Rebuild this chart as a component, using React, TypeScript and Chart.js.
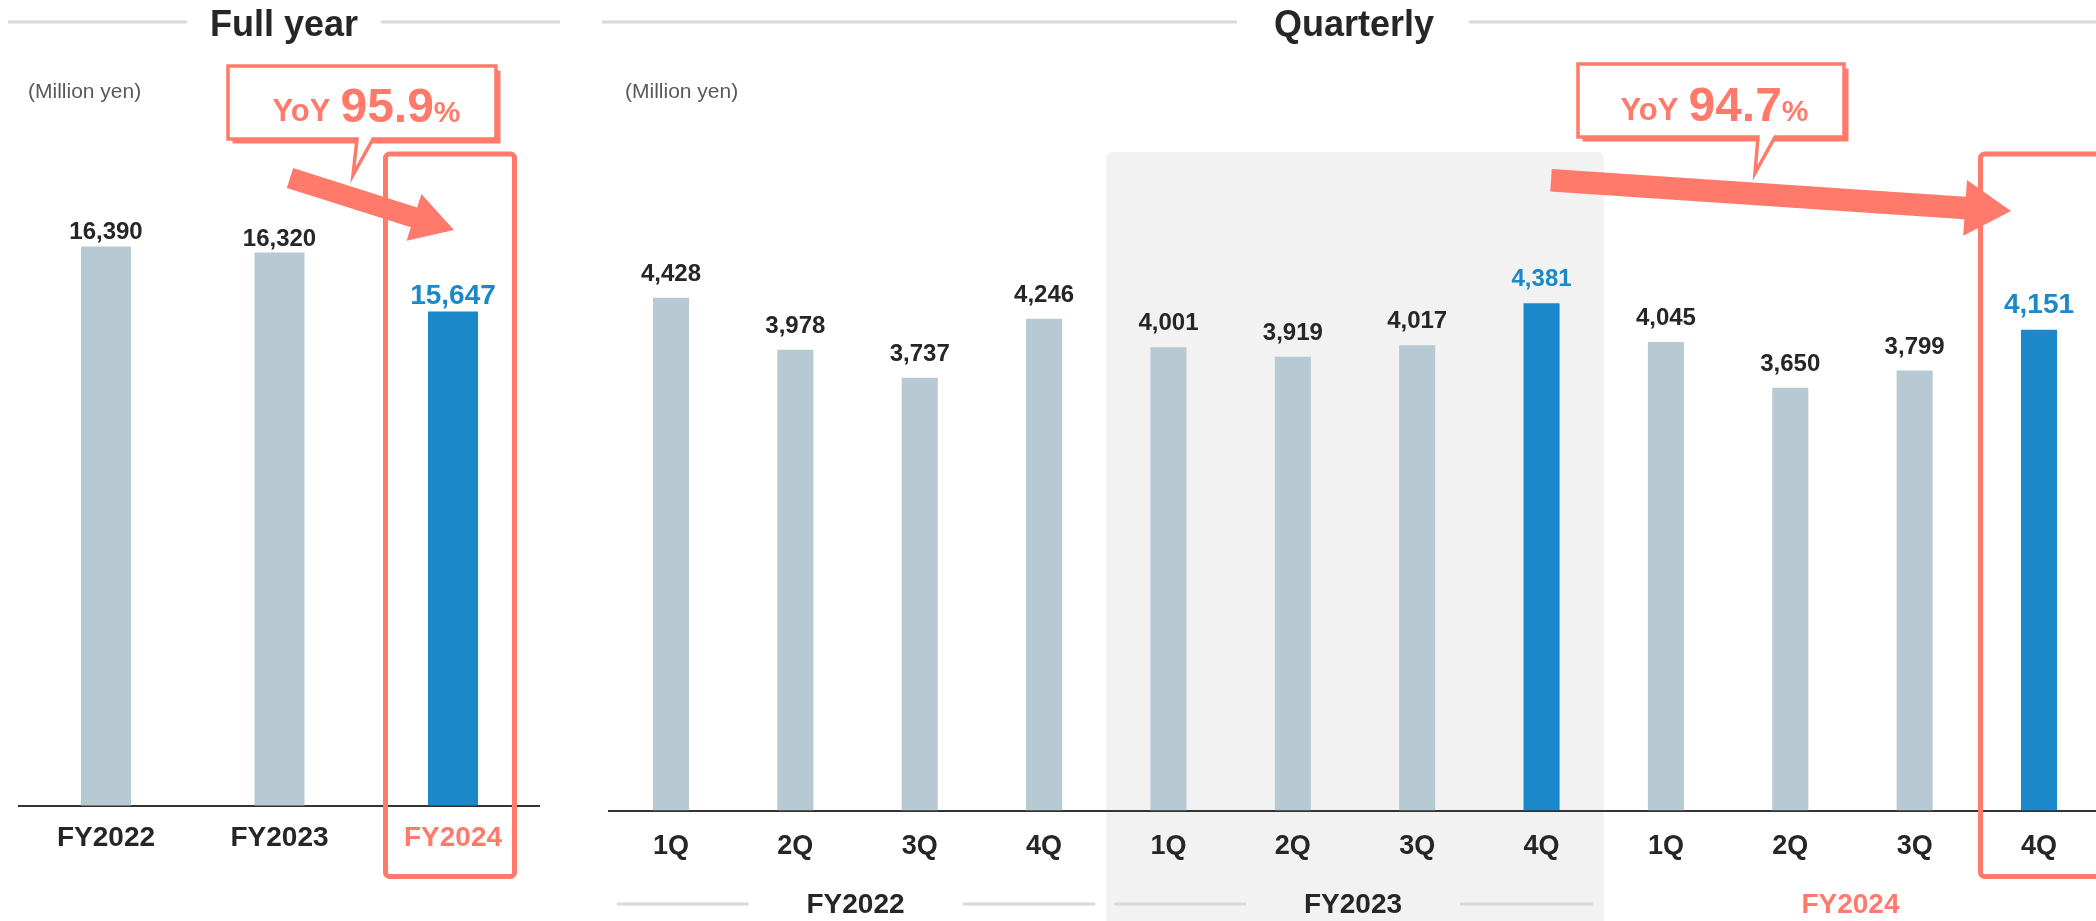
import React, { useEffect, useRef } from "react";
import { Chart, registerables } from "chart.js";

Chart.register(...registerables);

// ---------- data ----------
const yearLabels = ["FY2022", "FY2023", "FY2024"];
const yearValues = [16390, 16320, 15647];
const quarterLabels = ["1Q", "2Q", "3Q", "4Q", "1Q", "2Q", "3Q", "4Q", "1Q", "2Q", "3Q", "4Q"];
const quarterValues = [4428, 3978, 3737, 4246, 4001, 3919, 4017, 4381, 4045, 3650, 3799, 4151];
const quarterGroups = ["FY2022", "FY2023", "FY2024"];
const yoyYear = "95.9";
const yoyQuarter = "94.7";
const titleYear = "Full year";
const titleQuarter = "Quarterly";
const unitText = "(Million yen)";

// ---------- style ----------
const FONT = '"Liberation Sans", Arial, Helvetica, sans-serif';
const DARK = "#262626";
const GRAY_BAR = "#b7c9d3";
const BLUE = "#1b88ca";
const SALMON = "#ff7a6a";
const LINE_GRAY = "#d9d9d9";
const SHADE = "#f2f2f2";
const QX = 560; // quarterly canvas left offset

const fmt = (v: number) => v.toLocaleString("en-US");

function hline(ctx: CanvasRenderingContext2D, x1: number, x2: number, y: number, w = 3) {
  ctx.save();
  ctx.strokeStyle = LINE_GRAY;
  ctx.lineWidth = w;
  ctx.beginPath();
  ctx.moveTo(x1, y);
  ctx.lineTo(x2, y);
  ctx.stroke();
  ctx.restore();
}

function drawTitle(ctx: CanvasRenderingContext2D, text: string, cx: number) {
  ctx.save();
  ctx.font = `bold 36px ${FONT}`;
  ctx.fillStyle = DARK;
  ctx.textAlign = "center";
  ctx.textBaseline = "alphabetic";
  ctx.fillText(text, cx, 35.5);
  ctx.restore();
}

function drawUnit(ctx: CanvasRenderingContext2D, x: number) {
  ctx.save();
  ctx.font = `21px ${FONT}`;
  ctx.fillStyle = "#595959";
  ctx.textAlign = "left";
  ctx.textBaseline = "middle";
  ctx.fillText(unitText, x, 92);
  ctx.restore();
}

function drawRedBox(ctx: CanvasRenderingContext2D, x1: number, x2: number, y1: number, y2: number) {
  ctx.save();
  ctx.strokeStyle = SALMON;
  ctx.lineWidth = 5;
  ctx.beginPath();
  (ctx as any).roundRect(x1, y1, x2 - x1, y2 - y1, 4);
  ctx.stroke();
  ctx.restore();
}

function drawBubble(
  ctx: CanvasRenderingContext2D,
  x0: number, y0: number, x1: number, y1: number,
  tl: number, tr: number, tipX: number, tipY: number
) {
  ctx.save();
  // shadow
  ctx.fillStyle = SALMON;
  ctx.fillRect(x0 + 4.5, y0 + 4.5, x1 - x0, y1 - y0);
  // bubble
  ctx.beginPath();
  ctx.moveTo(x0, y0);
  ctx.lineTo(x1, y0);
  ctx.lineTo(x1, y1);
  ctx.lineTo(tr, y1);
  ctx.lineTo(tipX, tipY);
  ctx.lineTo(tl, y1);
  ctx.lineTo(x0, y1);
  ctx.closePath();
  ctx.fillStyle = "#ffffff";
  ctx.fill();
  ctx.strokeStyle = SALMON;
  ctx.lineWidth = 3.5;
  ctx.lineJoin = "miter";
  ctx.stroke();
  ctx.restore();
}

function drawYoY(ctx: CanvasRenderingContext2D, cx: number, base: number, num: string) {
  ctx.save();
  const f1 = `bold 31px ${FONT}`;
  const f2 = `bold 48px ${FONT}`;
  const f3 = `bold 30px ${FONT}`;
  ctx.font = f1;
  const w1 = ctx.measureText("YoY").width;
  ctx.font = f2;
  const w2 = ctx.measureText(num).width;
  ctx.font = f3;
  const w3 = ctx.measureText("%").width;
  const gap = 10;
  let x = cx - (w1 + gap + w2 + w3) / 2;
  ctx.fillStyle = SALMON;
  ctx.textAlign = "left";
  ctx.textBaseline = "alphabetic";
  ctx.font = f1;
  ctx.fillText("YoY", x, base - 0.5);
  x += w1 + gap;
  ctx.font = f2;
  ctx.fillText(num, x, base);
  x += w2;
  ctx.font = f3;
  ctx.fillText("%", x, base);
  ctx.restore();
}

function drawArrow(
  ctx: CanvasRenderingContext2D,
  sx: number, sy: number, tx: number, ty: number,
  sh: number, hl: number, hh: number
) {
  const dx = tx - sx, dy = ty - sy;
  const L = Math.hypot(dx, dy);
  const ux = dx / L, uy = dy / L;
  const px = -uy, py = ux;
  const bx = tx - ux * hl, by = ty - uy * hl;
  ctx.save();
  ctx.fillStyle = SALMON;
  ctx.beginPath();
  ctx.moveTo(sx + px * sh, sy + py * sh);
  ctx.lineTo(bx + px * sh, by + py * sh);
  ctx.lineTo(bx + px * hh, by + py * hh);
  ctx.lineTo(tx, ty);
  ctx.lineTo(bx - px * hh, by - py * hh);
  ctx.lineTo(bx - px * sh, by - py * sh);
  ctx.lineTo(sx - px * sh, sy - py * sh);
  ctx.closePath();
  ctx.fill();
  ctx.restore();
}

function drawValues(
  chart: any,
  values: number[],
  style: (i: number) => { color: string; size: number },
  gap: number
) {
  const ctx: CanvasRenderingContext2D = chart.ctx;
  const meta = chart.getDatasetMeta(0);
  ctx.save();
  ctx.textAlign = "center";
  ctx.textBaseline = "alphabetic";
  meta.data.forEach((bar: any, i: number) => {
    const s = style(i);
    ctx.font = `bold ${s.size}px ${FONT}`;
    ctx.fillStyle = s.color;
    ctx.fillText(fmt(values[i]), bar.x, bar.y - gap);
  });
  ctx.restore();
}

// ---------- plugins ----------
const yearDecor = {
  id: "yearDecor",
  beforeDraw(chart: any) {
    const ctx = chart.ctx;
    ctx.save();
    ctx.fillStyle = "#ffffff";
    ctx.fillRect(0, 0, chart.width, chart.height);
    ctx.restore();
  },
  afterDatasetsDraw(chart: any) {
    drawValues(
      chart,
      yearValues,
      (i) => (i === 2 ? { color: BLUE, size: 28 } : { color: DARK, size: 24 }),
      7
    );
  },
  afterDraw(chart: any) {
    const ctx = chart.ctx;
    hline(ctx, 8, 187, 22);
    hline(ctx, 381, 560, 22);
    drawTitle(ctx, titleYear, 284);
    drawUnit(ctx, 28);
    const xs = chart.scales.x;
    const cx = xs.getPixelForValue(2);
    drawRedBox(ctx, cx - 67.5, cx + 61.5, 154, 876.5);
    drawBubble(ctx, 228, 66, 496, 139, 357, 373, 353, 175);
    drawYoY(ctx, 366.5, 121.5, yoyYear);
    drawArrow(ctx, 290, 178, 454, 230, 10.4, 42, 24.5);
  },
};

const quarterDecor = {
  id: "quarterDecor",
  beforeDraw(chart: any) {
    const ctx: CanvasRenderingContext2D = chart.ctx;
    const xs = chart.scales.x;
    ctx.save();
    ctx.fillStyle = "#ffffff";
    ctx.fillRect(0, 0, chart.width, chart.height);
    const step = xs.getPixelForValue(1) - xs.getPixelForValue(0);
    const gx1 = xs.getPixelForValue(4) - step / 2;
    const gx2 = xs.getPixelForValue(7) + step / 2;
    ctx.fillStyle = SHADE;
    ctx.beginPath();
    (ctx as any).roundRect(gx1, 152, gx2 - gx1, chart.height - 152 + 10, [6, 6, 0, 0]);
    ctx.fill();
    ctx.restore();
  },
  afterDatasetsDraw(chart: any) {
    drawValues(
      chart,
      quarterValues,
      (i) =>
        i === 11
          ? { color: BLUE, size: 28 }
          : i === 7
          ? { color: BLUE, size: 24 }
          : { color: DARK, size: 24 },
      17
    );
  },
  afterDraw(chart: any) {
    const ctx: CanvasRenderingContext2D = chart.ctx;
    const xs = chart.scales.x;
    const step = xs.getPixelForValue(1) - xs.getPixelForValue(0);
    // group labels under quarters
    quarterGroups.forEach((g, gi) => {
      const c = (xs.getPixelForValue(gi * 4 + 1) + xs.getPixelForValue(gi * 4 + 2)) / 2 - 2;
      const left = xs.getPixelForValue(gi * 4) - step / 2;
      const right = xs.getPixelForValue(gi * 4 + 3) + step / 2;
      if (gi < 2) {
        hline(ctx, left + 8, c - 107, 904);
        hline(ctx, c + 107, right - 11, 904);
      }
      ctx.save();
      ctx.font = `bold 28px ${FONT}`;
      ctx.fillStyle = gi === 2 ? SALMON : DARK;
      ctx.textAlign = "center";
      ctx.textBaseline = "middle";
      ctx.fillText(g, c, 905);
      ctx.restore();
    });
    // title
    hline(ctx, 602 - QX, 1237 - QX, 22);
    hline(ctx, 1469 - QX, chart.width, 22);
    drawTitle(ctx, titleQuarter, 1354 - QX);
    drawUnit(ctx, 625 - QX);
    // highlight box (right side runs past the picture edge)
    const cx = xs.getPixelForValue(11);
    drawRedBox(ctx, cx - 58.5, cx + 70, 154, 876.5);
    // callout
    drawBubble(ctx, 1578 - QX, 64, 1844 - QX, 137, 1758 - QX, 1775 - QX, 1755 - QX, 173);
    drawYoY(ctx, 1714.5 - QX, 120.5, yoyQuarter);
    drawArrow(ctx, 1551 - QX, 180.3, 2011 - QX, 211, 11.3, 46, 28);
  },
};

// ---------- component ----------
export default function App() {
  const yearRef = useRef<HTMLCanvasElement>(null);
  const quarterRef = useRef<HTMLCanvasElement>(null);

  useEffect(() => {
    const tickFont = (size: number) => ({ family: FONT, size, weight: "bold" as const });

    const c1 = new Chart(yearRef.current!, {
      type: "bar",
      data: {
        labels: yearLabels,
        datasets: [
          {
            data: yearValues,
            backgroundColor: yearValues.map((_, i) => (i === 2 ? BLUE : GRAY_BAR)),
            barPercentage: 0.288,
            categoryPercentage: 1,
          },
        ],
      },
      options: {
        animation: false,
        responsive: false,
        maintainAspectRatio: false,
        layout: { padding: { top: 193, left: 19.25, right: 20.25, bottom: 0 } },
        plugins: { legend: { display: false }, tooltip: { enabled: false } },
        scales: {
          x: {
            grid: { display: false, drawTicks: false },
            border: { display: true, color: "#333333", width: 2 },
            ticks: {
              font: tickFont(28),
              color: (c: any) => (c.index === 2 ? SALMON : DARK),
              padding: 16,
              maxRotation: 0,
              autoSkip: false,
            },
            afterFit: (s: any) => {
              s.height = 115.5;
            },
          },
          y: { display: false, min: 10000, max: 17000 },
        },
      },
      plugins: [yearDecor],
    } as any);

    const c2 = new Chart(quarterRef.current!, {
      type: "bar",
      data: {
        labels: quarterLabels,
        datasets: [
          {
            data: quarterValues,
            backgroundColor: quarterValues.map((_, i) => (i === 7 || i === 11 ? BLUE : GRAY_BAR)),
            barPercentage: 0.29,
            categoryPercentage: 1,
          },
        ],
      },
      options: {
        animation: false,
        responsive: false,
        maintainAspectRatio: false,
        layout: { padding: { top: 231.5, left: 48.8, right: 3.8, bottom: 0 } },
        plugins: { legend: { display: false }, tooltip: { enabled: false } },
        scales: {
          x: {
            grid: { display: false, drawTicks: false },
            border: { display: true, color: "#333333", width: 2 },
            ticks: {
              font: tickFont(27),
              color: DARK,
              padding: 20,
              maxRotation: 0,
              autoSkip: false,
            },
            afterFit: (s: any) => {
              s.height = 110.5;
            },
          },
          y: { display: false, min: 0, max: 5000 },
        },
      },
      plugins: [quarterDecor],
    } as any);

    return () => {
      c1.destroy();
      c2.destroy();
    };
  }, []);

  return (
    <div
      style={{
        position: "absolute",
        left: 0,
        top: 0,
        width: 2096,
        height: 921,
        overflow: "hidden",
        background: "#ffffff",
      }}
    >
      <canvas
        ref={yearRef}
        width={560}
        height={921}
        style={{ position: "absolute", left: 0, top: 0, width: 560, height: 921 }}
      />
      <canvas
        ref={quarterRef}
        width={1545}
        height={921}
        style={{ position: "absolute", left: QX, top: 0, width: 1545, height: 921 }}
      />
    </div>
  );
}
